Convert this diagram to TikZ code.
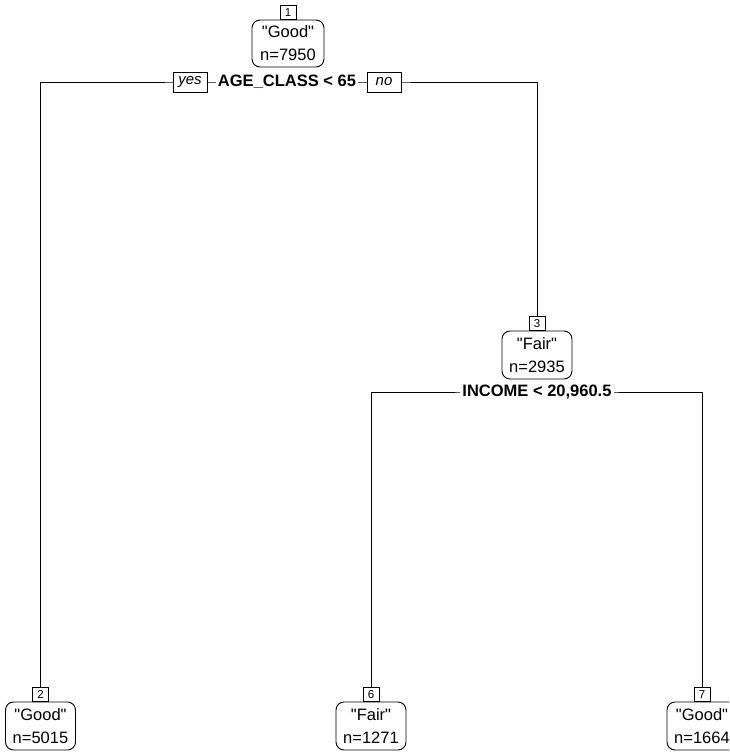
\documentclass[tikz,border=0pt]{standalone}
\usepackage{fontspec}
\setmainfont{Liberation Sans}
\usetikzlibrary{backgrounds}
\newcommand{\qq}[1]{\textquotedbl#1\textquotedbl}
\tikzset{
 nodebox/.style={draw, fill=white, rounded corners=8pt, align=center, minimum width=70pt, minimum height=48pt, inner sep=2pt, line width=0.9pt, font=\fontsize{16.5}{23}\selectfont},
 numbox/.style={draw, fill=white, minimum width=16pt, minimum height=14pt, inner sep=0pt, line width=0.9pt, font=\fontsize{11.5}{11.5}\selectfont, anchor=south},
 splitlab/.style={fill=white, inner sep=2pt, font=\fontsize{16.5}{18}\selectfont\bfseries},
 yesno/.style={draw, fill=white, minimum width=34pt, minimum height=20pt, inner sep=1pt, line width=0.9pt, font=\fontsize{15}{15}\selectfont\itshape},
 edge/.style={line width=0.9pt}
}
\begin{document}
\begin{tikzpicture}[x=1pt,y=-1pt]
\useasboundingbox (0,0) rectangle (729,753);
\clip (0,0) rectangle (729,753);
% internal nodes
\node[nodebox, minimum width=72pt, minimum height=47pt] (n1) at (288,43.5) {\qq{Good}\\n=7950};
\node[numbox] (n1num) at (n1.north) {1};
\node[splitlab] (s1) at (287,82) {AGE\_CLASS < 65};
\node[yesno] (yes) at (190,82) {yes};
\node[yesno] (no) at (384,82) {no};

\node[nodebox] (n3) at (537,355) {\qq{Fair}\\n=2935};
\node[numbox] (n3num) at (n3.north) {3};
\node[splitlab] (s2) at (537,392) {INCOME < 20,960.5};

% leaves
\node[nodebox] (n2) at (40.5,726) {\qq{Good}\\n=5015};
\node[numbox] (n2num) at (n2.north) {2};
\node[nodebox] (n6) at (371,726) {\qq{Fair}\\n=1271};
\node[numbox] (n6num) at (n6.north) {6};
\node[nodebox] (n7) at (702,726) {\qq{Good}\\n=1664};
\node[numbox] (n7num) at (n7.north) {7};

\begin{scope}[on background layer]
\draw[edge] (n2num.north) |- (s1.center) -| (n3num.north);
\draw[edge] (n6num.north) |- (s2.center) -| (n7num.north);
\end{scope}
\end{tikzpicture}
\end{document}
